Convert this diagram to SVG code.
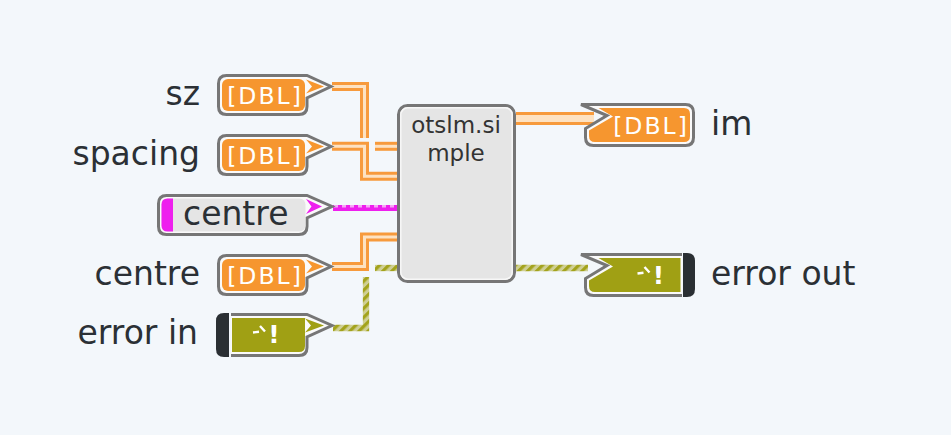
<svg xmlns="http://www.w3.org/2000/svg" xmlns:xlink="http://www.w3.org/1999/xlink" width="951" height="435" viewBox="0 0 951 435">
<defs>
<style>
.lbl{font-family:"DejaVu Sans","Verdana",sans-serif;font-size:33px;fill:#2b3035}
.dbl{font-family:"DejaVu Sans",sans-serif;font-size:23.5px;fill:#ffffff;letter-spacing:2px;text-anchor:middle}
.nt{font-family:"DejaVu Sans",sans-serif;font-size:23px;fill:#333333;text-anchor:middle}
.bang{font-family:"DejaVu Sans",sans-serif;font-weight:bold;font-size:25px;fill:#ffffff;text-anchor:middle}
.out{fill:#fafafa;stroke:#767676;stroke-width:3;stroke-linejoin:miter}
.ow{fill:none;stroke:#f79a3c;stroke-width:9;stroke-linejoin:miter}
.iw{fill:none;stroke:#fde2c2;stroke-width:3;stroke-linejoin:miter}
.ew{fill:none;stroke:url(#stripe);stroke-width:6.3;stroke-linejoin:miter}
.mk{fill:none;stroke:#ffffff;stroke-width:2.4}
</style>
<pattern id="stripe" patternUnits="userSpaceOnUse" width="6.4" height="6.4" patternTransform="rotate(45)">
<rect x="0" y="0" width="6.4" height="6.4" fill="#cfcf95"/>
<rect x="0" y="0" width="3.2" height="6.4" fill="#a3a31c"/>
</pattern>
<g id="ctl">
<path class="out" d="M9.5,1.5 L90,1.5 L114,12.5 L90,24 L90,32.5 Q90,40.5 82,40.5 L9.5,40.5 Q1.5,40.5 1.5,32.5 L1.5,9.5 Q1.5,1.5 9.5,1.5 Z"/>
<rect x="5" y="5" width="83" height="32" rx="6" fill="#f6962f"/>
<polygon points="89,5.5 107,12.5 89,19.5 95,12.5" fill="#f6962f"/>
<text class="dbl" x="48" y="30">[DBL]</text>
</g>
<g id="err">
<path d="M16,1.5 L92,1.5 L117,12.5 L92,24 L92,34.5 Q92,42.5 84,42.5 L16,42.5 Z" fill="#fafafa"/>
<path d="M16,1.5 L92,1.5 L117,12.5 L92,24 L92,34.5 Q92,42.5 84,42.5 L16,42.5" fill="none" stroke="#767676" stroke-width="3"/>
<path d="M14,0 L14,44 L9,44 Q1,44 1,36 L1,8 Q1,0 9,0 Z" fill="#2a2f33"/>
<path d="M17,5 L90,5 L90,33 Q90,39 84,39 L17,39 Z" fill="#a0a014"/>
<polygon points="90,5.5 109,12.5 90,19.5 96,12.5" fill="#a0a014"/>
</g>
</defs>
<rect x="0" y="0" width="951" height="435" fill="#f3f7fb"/>

<g id="wires">
<path class="ow" d="M332,86.5 H364.5 V138"/>
<path class="iw" d="M332,86.5 H364.5 V138"/>
<path class="ow" d="M375,146.3 H398"/>
<path class="iw" d="M375,146.3 H398"/>
<path class="ow" d="M332,146.3 H364.5 V176.3 H398"/>
<path class="iw" d="M332,146.3 H364.5 V176.3 H398"/>
<path class="ow" d="M332,266.5 H364.5 V237 H398"/>
<path class="iw" d="M332,266.5 H364.5 V237 H398"/>
<path d="M333,208 H398" fill="none" stroke="#ee1fee" stroke-width="6"/>
<path d="M334,206.2 H398" fill="none" stroke="#f6a6f6" stroke-width="2.4" stroke-dasharray="4 4"/>
<path class="ew" d="M333,328 H366 V277"/>
<path class="ew" d="M375,268 H398"/>
<path class="ew" d="M516,268 H588"/>
<path d="M516,118.5 H594" fill="none" stroke="#f79a3c" stroke-width="13"/>
<path d="M516,118.5 H594" fill="none" stroke="#fde2c2" stroke-width="7"/>
</g>

<g id="sz">
<use xlink:href="#ctl" x="217" y="74"/>
<text class="lbl" x="200" y="105" text-anchor="end">sz</text>
</g>
<g id="spacing">
<use xlink:href="#ctl" x="217" y="134"/>
<text class="lbl" x="200" y="165" text-anchor="end">spacing</text>
</g>
<g id="centre_cluster">
<path class="out" d="M166.5,195.5 L307,195.5 L332,206.5 L307,218 L307,226.5 Q307,234.5 299,234.5 L166.5,234.5 Q158.5,234.5 158.5,226.5 L158.5,203.5 Q158.5,195.5 166.5,195.5 Z"/>
<rect x="161.5" y="198.5" width="144" height="33" rx="6" fill="#e5e5e5"/>
<path d="M173,198.5 L173,231.5 L167.5,231.5 Q161.5,231.5 161.5,225.5 L161.5,204.5 Q161.5,198.5 167.5,198.5 Z" fill="#ee1fee"/>
<polygon points="306,199 322,206.5 306,214 311.5,206.5" fill="#ee1fee"/>
<text class="lbl" x="183" y="225">centre</text>
</g>
<g id="centre">
<use xlink:href="#ctl" x="217" y="254"/>
<text class="lbl" x="200" y="285" text-anchor="end">centre</text>
</g>
<g id="error_in">
<use xlink:href="#err" x="215" y="313"/>
<text class="bang" x="274" y="342.5">!</text>
<path class="mk" d="M253,332.5 L259,331.8 M260,326 L265,331.5"/>
<text class="lbl" x="198" y="344" text-anchor="end">error in</text>
</g>

<g id="node">
<rect x="398.5" y="105.5" width="116" height="176" rx="9" fill="#e5e5e5" stroke="#767676" stroke-width="3"/>
<rect x="400.8" y="107.8" width="111.4" height="171.4" rx="7" fill="none" stroke="#f7f7f7" stroke-width="1.5"/>
<text class="nt" x="456" y="133">otslm.si</text>
<text class="nt" x="456" y="161">mple</text>
</g>

<g id="im">
<path class="out" d="M581,104.5 L607,115.5 L585.5,128.5 L585.5,137.5 Q585.5,145.5 593.5,145.5 L685.5,145.5 Q693.5,145.5 693.5,137.5 L693.5,112.5 Q693.5,104.5 685.5,104.5 Z"/>
<path d="M598.5,108 L684,108 Q690,108 690,114 L690,136 Q690,142 684,142 L595,142 Q589,142 589,136 L589,130.5 L613,116.5 Z" fill="#f6962f"/>
<text class="dbl" x="651" y="134">[DBL]</text>
<text class="lbl" x="711" y="135">im</text>
</g>

<g id="error_out">
<path d="M581,254.5 L607,265.5 L585.5,278.5 L585.5,287.5 Q585.5,295.5 593.5,295.5 L682,295.5 L682,254.5 Z" fill="#fafafa"/>
<path d="M682,254.5 L581,254.5 L607,265.5 L585.5,278.5 L585.5,287.5 Q585.5,295.5 593.5,295.5 L682,295.5" fill="none" stroke="#767676" stroke-width="3"/>
<path d="M683,253 L687,253 Q695,253 695,261 L695,289 Q695,297 687,297 L683,297 Z" fill="#2a2f33"/>
<path d="M598.5,258 L680.5,258 L680.5,292 L595,292 Q589,292 589,286 L589,280.5 L613,266.5 Z" fill="#a0a014"/>
<text class="bang" x="658.5" y="283.5">!</text>
<path class="mk" d="M637.5,273.5 L643.5,272.8 M644.5,267 L649.5,272.5"/>
<text class="lbl" x="711" y="285">error out</text>
</g>
</svg>
